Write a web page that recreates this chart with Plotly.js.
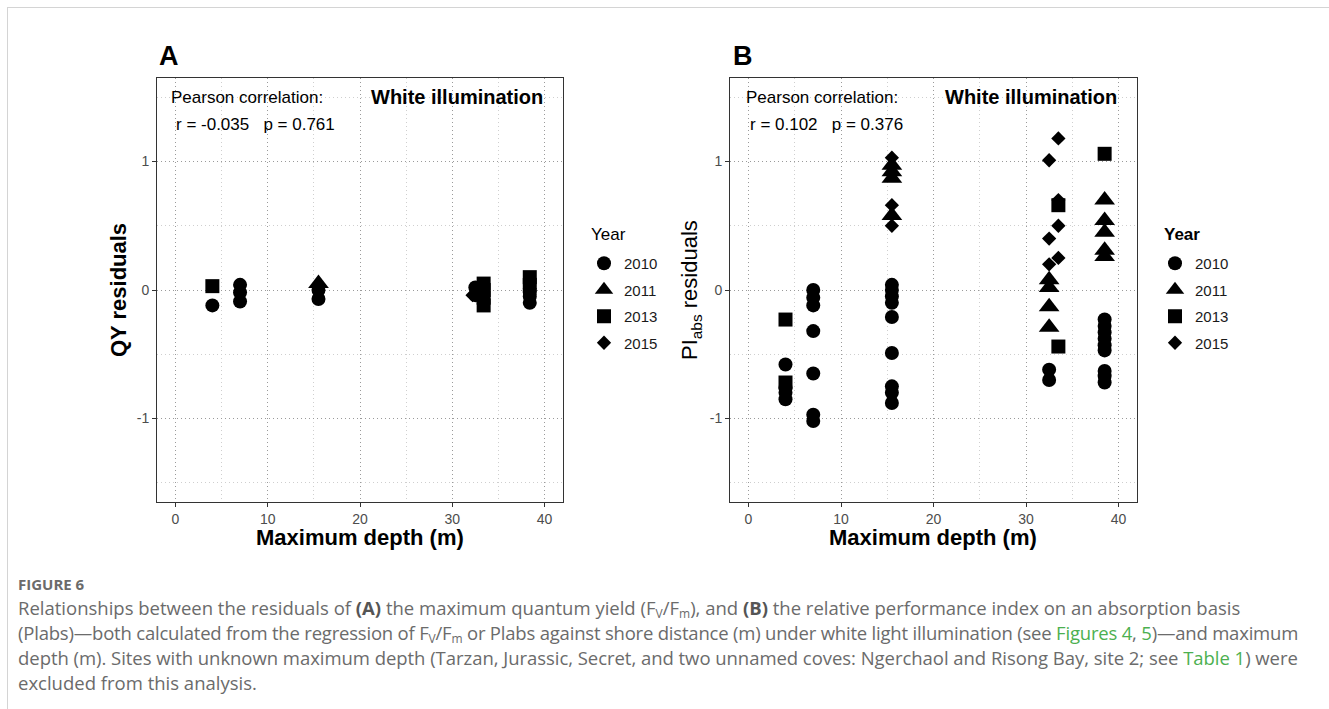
<!DOCTYPE html>
<html>
<head>
<meta charset="utf-8">
<script src="https://cdn.plot.ly/plotly-3.0.1.min.js"></script>
<style>
  html, body { margin: 0; padding: 0; background: #fff; overflow: hidden; }
  #wrap { position: relative; width: 1329px; height: 709px; }
  #chart { position: absolute; left: 0; top: 0; width: 1329px; height: 709px; }
  #frame { position: absolute; left: 7px; top: 7px; width: 1330px; height: 710px;
           border-left: 1px solid #d4d4d4; border-top: 1px solid #d4d4d4; pointer-events: none; }
  #caption { position: absolute; left: 18px; top: 573px; font-family: "Open Sans", "Lato", sans-serif;
             color: #6b6b6b; white-space: nowrap; }
  #caption .fig { font-weight: 700; font-size: 15px; line-height: 22px; }
  #caption .ln { display: block; font-size: 18.5px; line-height: 25px; height: 25px; }
  #caption .l2 { letter-spacing: -0.2px; }
  #caption .l3 { letter-spacing: -0.04px; }
  #caption b { color: #555; }
  #caption .lnk { color: #4cb050; }
  #caption sub { font-size: 12px; line-height: 0; vertical-align: baseline; position: relative; top: 0.25em; }
</style>
</head>
<body>
<div id="wrap">
  <div id="chart"></div>
  <div id="frame"></div>
  <div id="caption">
    <div class="fig">FIGURE 6</div>
    <span class="ln l1">Relationships between the residuals of <b>(A)</b> the maximum quantum yield (F<sub>V</sub>/F<sub>m</sub>), and <b>(B)</b> the relative performance index on an absorption basis</span>
    <span class="ln l2">(Plabs)—both calculated from the regression of F<sub>V</sub>/F<sub>m</sub> or Plabs against shore distance (m) under white light illumination (see <span class="lnk">Figures 4</span>, <span class="lnk">5</span>)—and maximum</span>
    <span class="ln l3">depth (m). Sites with unknown maximum depth (Tarzan, Jurassic, Secret, and two unnamed coves: Ngerchaol and Risong Bay, site 2; see <span class="lnk">Table 1</span>) were</span>
    <span class="ln l4">excluded from this analysis.</span>
  </div>
</div>
<script>
// ---------- Data ----------
const years = ["2010", "2011", "2013", "2015"];
const yearSymbols = ["circle", "triangle-up", "square", "diamond"];

// Panel A: QY residuals vs maximum depth (m)
const qyDepth2010 = [4, 7, 7, 7, 15.5, 15.5, 32.5, 32.5, 38.4, 38.4, 38.4];
const qyResid2010 = [-0.12, 0.04, -0.02, -0.09, 0.0, -0.07, 0.02, -0.04, -0.02, -0.05, -0.1];
const qyDepth2011 = [15.5];
const qyResid2011 = [0.05];
const qyDepth2013 = [4, 33.4, 33.4, 33.4, 33.4, 38.4, 38.4];
const qyResid2013 = [0.03, 0.05, 0.0, -0.06, -0.12, 0.1, 0.04];
const qyDepth2015 = [32.2, 38.4];
const qyResid2015 = [-0.04, 0.01];

// Panel B: PIabs residuals vs maximum depth (m)
const piDepth2010 = [4, 4, 4, 4,
                     7, 7, 7, 7, 7, 7, 7,
                     15.5, 15.5, 15.5, 15.5, 15.5, 15.5, 15.5, 15.5, 15.5,
                     32.5, 32.5,
                     38.5, 38.5, 38.5, 38.5, 38.5, 38.5, 38.5, 38.5, 38.5];
const piResid2010 = [-0.58, -0.76, -0.80, -0.85,
                     0.0, -0.06, -0.12, -0.32, -0.65, -0.97, -1.02,
                     0.04, 0.0, -0.05, -0.10, -0.21, -0.49, -0.75, -0.80, -0.88,
                     -0.62, -0.70,
                     -0.23, -0.28, -0.33, -0.38, -0.43, -0.47, -0.63, -0.67, -0.72];
const piDepth2011 = [15.5, 15.5, 15.5, 15.5,
                     32.5, 32.5, 32.5, 32.5,
                     38.5, 38.5, 38.5, 38.5, 38.5];
const piResid2011 = [0.97, 0.92, 0.87, 0.58,
                     0.08, 0.02, -0.13, -0.29,
                     0.70, 0.54, 0.45, 0.31, 0.26];
const piDepth2013 = [4, 4, 33.5, 33.5, 38.5];
const piResid2013 = [-0.23, -0.72, 0.66, -0.44, 1.06];
const piDepth2015 = [15.5, 15.5, 15.5,
                     32.5, 32.5, 32.5,
                     33.5, 33.5, 33.5, 33.5];
const piResid2015 = [1.03, 0.66, 0.50,
                     1.01, 0.40, 0.20,
                     1.18, 0.70, 0.50, 0.25];

const xTickVals = [0, 10, 20, 30, 40];
const yTickVals = [-1, 0, 1];

// ---------- Styling ----------
const FONT = "Liberation Sans, Arial, Helvetica, sans-serif";
const W = 1329, H = 709;
const markerSizes = {"circle": 14, "triangle-up": 18, "square": 14, "diamond": 11};

const panelA = [[qyDepth2010, qyResid2010], [qyDepth2011, qyResid2011], [qyDepth2013, qyResid2013], [qyDepth2015, qyResid2015]];
const panelB = [[piDepth2010, piResid2010], [piDepth2011, piResid2011], [piDepth2013, piResid2013], [piDepth2015, piResid2015]];

const traces = [];
function addPanel(panel, xa, ya, legendId, prefix) {
  panel.forEach((d, i) => {
    traces.push({
      type: "scatter", mode: "markers",
      x: d[0], y: d[1], xaxis: xa, yaxis: ya,
      name: years[i], legend: legendId, legendgroup: prefix + years[i],
      marker: {symbol: yearSymbols[i], size: markerSizes[yearSymbols[i]], color: "#000", line: {width: 0}},
      hoverinfo: "x+y"
    });
  });
}
addPanel(panelA, "x", "y", "legend", "a");
addPanel(panelB, "x2", "y2", "legend2", "b");

const MAJOR_DASH = "1px,3px", MINOR_DASH = "1px,3px";
function xAxis(domain, anchor) {
  return {
    domain: domain, anchor: anchor, range: [-2, 42],
    tickvals: xTickVals, ticktext: xTickVals.map(String),
    showgrid: true, gridcolor: "#9a9a9a", griddash: MAJOR_DASH, gridwidth: 1,
    minor: {dtick: 5, tick0: 0, showgrid: true, gridcolor: "#cfcfcf", griddash: MINOR_DASH, gridwidth: 1},
    showline: true, mirror: true, linecolor: "#333", linewidth: 1,
    ticks: "outside", ticklen: 4, tickcolor: "#333", tickwidth: 1,
    tickfont: {family: FONT, size: 14, color: "#4d4d4d"},
    zeroline: false
  };
}
function yAxis(domain, anchor) {
  return {
    domain: domain, anchor: anchor, range: [-1.65, 1.65],
    tickvals: yTickVals, ticktext: yTickVals.map(String),
    showgrid: true, gridcolor: "#9a9a9a", griddash: MAJOR_DASH, gridwidth: 1,
    minor: {dtick: 0.5, tick0: 0, showgrid: true, gridcolor: "#cfcfcf", griddash: MINOR_DASH, gridwidth: 1},
    showline: true, mirror: true, linecolor: "#333", linewidth: 1,
    ticks: "outside", ticklen: 4, tickcolor: "#333", tickwidth: 1,
    tickfont: {family: FONT, size: 14, color: "#4d4d4d"},
    zeroline: false
  };
}

const yDom = [1 - 502 / H, 1 - 78 / H];
const px = v => v / W, py = v => 1 - v / H;

function ann(text, x, y, opts) {
  return Object.assign({text: text, x: x, y: y, xref: "paper", yref: "paper", showarrow: false,
    xanchor: "left", yanchor: "middle", font: {family: FONT, size: 17, color: "#000"}}, opts || {});
}

const annotations = [
  ann("<b>A</b>", px(157), py(56), {font: {family: FONT, size: 27, color: "#000"}}),
  ann("<b>B</b>", px(731), py(56), {font: {family: FONT, size: 27, color: "#000"}}),
  // Panel A texts
  ann("Pearson correlation:", -0.7, 1.5, {xref: "x", yref: "y"}),
  ann("r = -0.035\u00a0\u00a0\u00a0p = 0.761", -0.2, 1.29, {xref: "x", yref: "y"}),
  ann("<b>White illumination</b>", 40.1, 1.5, {xref: "x", yref: "y", xanchor: "right", font: {family: FONT, size: 20, color: "#000"}}),
  // Panel B texts
  ann("Pearson correlation:", -0.5, 1.5, {xref: "x2", yref: "y2"}),
  ann("r = 0.102\u00a0\u00a0\u00a0p = 0.376", -0.1, 1.29, {xref: "x2", yref: "y2"}),
  ann("<b>White illumination</b>", 40.1, 1.5, {xref: "x2", yref: "y2", xanchor: "right", font: {family: FONT, size: 20, color: "#000"}}),
  // Axis titles
  ann("<b>QY residuals</b>", px(118), py(290), {xanchor: "center", textangle: -90, font: {family: FONT, size: 22, color: "#000"}}),
  ann("PI<sub>abs</sub> residuals", px(691), py(290), {xanchor: "center", textangle: -90, font: {family: FONT, size: 22, color: "#000"}}),
  ann("<b>Maximum depth (m)</b>", px(360), py(537), {xanchor: "center", font: {family: FONT, size: 22, color: "#000"}}),
  ann("<b>Maximum depth (m)</b>", px(933), py(537), {xanchor: "center", font: {family: FONT, size: 22, color: "#000"}}),
  // Legend titles
  ann("Year", px(589), py(235), {font: {family: FONT, size: 17, color: "#000"}}),
  ann("<b>Year</b>", px(1162), py(235), {font: {family: FONT, size: 17, color: "#000"}})
];

const layout = {
  width: W, height: H,
  margin: {l: 0, r: 0, t: 0, b: 0},
  paper_bgcolor: "rgba(0,0,0,0)", plot_bgcolor: "#fff",
  font: {family: FONT, color: "#000"},
  showlegend: true,
  xaxis: xAxis([px(157), px(563)], "y"),
  yaxis: yAxis(yDom, "x"),
  xaxis2: xAxis([px(730), px(1137)], "y2"),
  yaxis2: yAxis(yDom, "x2"),
  legend: {x: px(584), y: py(247), xanchor: "left", yanchor: "top", bgcolor: "rgba(0,0,0,0)",
           font: {family: FONT, size: 15, color: "#1a1a1a"}, itemsizing: "trace", tracegroupgap: 4},
  legend2: {x: px(1155), y: py(247), xanchor: "left", yanchor: "top", bgcolor: "rgba(0,0,0,0)",
           font: {family: FONT, size: 15, color: "#1a1a1a"}, itemsizing: "trace", tracegroupgap: 4},
  annotations: annotations
};

Plotly.newPlot("chart", traces, layout, {displayModeBar: false, staticPlot: true});
</script>
</body>
</html>
